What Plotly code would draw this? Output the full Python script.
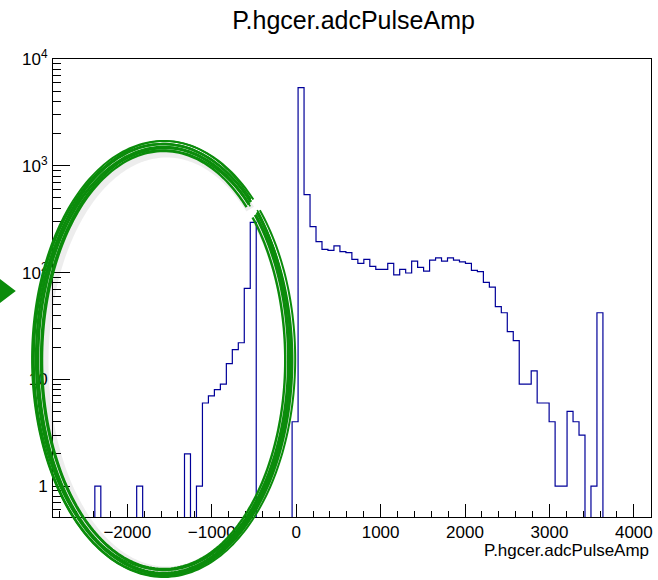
import numpy as np
import plotly.graph_objects as go

# ---- data ----
x_min = -2880.0
x_max = 4200.0
n_bins = 100
# non-empty bins: index -> content
bin_index = [7, 14, 22, 24, 25, 26, 27, 28, 29, 30, 31, 32, 33,
             40, 41, 42, 43, 44, 45, 46, 47, 48, 49, 50, 51, 52, 53, 54, 55,
             56, 57, 58, 59, 60, 61, 62, 63, 64, 65, 66, 67, 68, 69, 70, 71,
             72, 73, 74, 75, 76, 77, 78, 79, 80, 81, 82, 83, 84, 85, 86, 87,
             88, 90, 91]
bin_count = [1, 1, 2, 1, 6, 7, 8, 9, 14, 19, 22, 71, 295,
             4, 5395, 536, 269, 195, 165, 161, 178, 157, 154, 133, 122, 133, 114, 107, 107,
             122, 95, 107, 99, 128, 112, 103, 131, 137, 128, 137, 131, 126, 122, 105, 102,
             81, 73, 48, 42, 28, 23, 9, 9, 12, 6, 6, 4, 1, 1, 5, 4,
             3, 1, 42]
x_tick_step = 1000
x_minor_step = 200
y_tickvals = [1, 10, 100, 1000, 10000]
y_ticktext = ["1", "10", "10<sup>2</sup>", "10<sup>3</sup>", "10<sup>4</sup>"]
title_text = "P.hgcer.adcPulseAmp"
xaxis_title = "P.hgcer.adcPulseAmp"

# ---- build histogram outline ----
counts = np.zeros(n_bins)
for i, c in zip(bin_index, bin_count):
    counts[i] = c
edges = np.linspace(x_min, x_max, n_bins + 1)
floor = 0.05  # zero bins fall below the visible log range
ys = np.where(counts > 0, counts, floor)
step_x = list(edges)
step_y = list(ys) + [floor]

fig = go.Figure()
fig.add_trace(go.Scatter(x=step_x, y=step_y, mode="lines", line_shape="hv",
                         line=dict(color="#000099", width=1.2),
                         hoverinfo="skip", showlegend=False))

W, H = 658, 580
L, R, T, B = 53, 5, 59, 63
pw, ph = W - L - R, H - T - B


def px2paper(px, py):
    return (px - L) / pw, (H - B - py) / ph


# ---- hand-drawn green ellipse overlay ----
shapes = []
cx, cy, a, b = 164, 359, 127, 213
# faint shadow
t = np.radians(np.linspace(47, 403, 240))
pts = [px2paper(cx + 3 + (a - 4) * np.cos(tt), cy + 3 - (b - 4) * np.sin(tt)) for tt in t]
shapes.append(dict(type="path", xref="paper", yref="paper",
                   path="M " + " L ".join(f"{p[0]:.5f},{p[1]:.5f}" for p in pts),
                   line=dict(color="rgba(0,0,0,0.07)", width=9), layer="above"))
strokes = [(-5, -4, 0, 1, 2.4), (-3, -2, 1, 0, 2.4), (-1, 0, 0, 1, 2.6), (1, 2, 0, 0, 2.4),
           (3, 3, -1, 1, 2.4), (5, 5, 0, 0, 2.0), (0, 4, 1, -1, 1.6), (2, -3, -1, 1, 1.6)]
for da, db, dx, dy, w in strokes:
    pts = [px2paper(cx + dx + (a + da) * np.cos(tt), cy + dy - (b + db) * np.sin(tt)) for tt in t]
    path = "M " + " L ".join(f"{p[0]:.5f},{p[1]:.5f}" for p in pts)
    shapes.append(dict(type="path", xref="paper", yref="paper", path=path,
                       line=dict(color="#0b8c0b", width=w), layer="above"))
# arrow head at the left edge
tri = [px2paper(-2, 279), px2paper(14, 291), px2paper(-2, 303)]
shapes.append(dict(type="path", xref="paper", yref="paper",
                   path="M " + " L ".join(f"{p[0]:.5f},{p[1]:.5f}" for p in tri) + " Z",
                   fillcolor="#0b8c0b", line=dict(color="#0b8c0b", width=2), layer="above"))

# minor log ticks
y_minor = [m * 10.0 ** e for e in range(-1, 4) for m in range(2, 10)]
y_minor = [v for v in y_minor if 0.5 < v < 10000]

font = "Liberation Sans, Arial, sans-serif"
fig.update_layout(
    width=W, height=H,
    margin=dict(l=L, r=R, t=T, b=B),
    paper_bgcolor="white", plot_bgcolor="white",
    shapes=shapes,
    title=dict(text=title_text, x=353.5 / W, xanchor="center",
               y=1 - 20 / H, yanchor="middle", yref="container",
               font=dict(family=font, size=25, color="black")),
    annotations=[dict(text=xaxis_title, xref="paper", yref="paper", x=1, xanchor="right",
                      y=(H - B - 550) / ph, yanchor="middle", showarrow=False,
                      font=dict(family=font, size=17, color="black"))],
)
fig.update_xaxes(range=[x_min, 4203], showline=True, linecolor="black", linewidth=1, mirror=True,
                 ticks="inside", ticklen=13, tickwidth=1, tickcolor="black",
                 tick0=0, dtick=x_tick_step, showgrid=False, zeroline=False,
                 minor=dict(ticks="inside", ticklen=6, tickwidth=1, tickcolor="black",
                            tick0=0, dtick=x_minor_step, showgrid=False),
                 tickfont=dict(family=font, size=17, color="black"))
fig.update_yaxes(type="log", range=[-0.29, 4.0005], showline=True, linecolor="black", linewidth=1,
                 mirror=True, ticks="inside", ticklen=17, tickwidth=1, tickcolor="black",
                 tickmode="array", tickvals=y_tickvals, ticktext=y_ticktext,
                 showgrid=False, zeroline=False, ticklabelstandoff=1,
                 minor=dict(ticks="inside", ticklen=8, tickwidth=1, tickcolor="black",
                            tickmode="array", tickvals=y_minor, showgrid=False),
                 tickfont=dict(family=font, size=17, color="black"))

fig.write_html("out.html")
